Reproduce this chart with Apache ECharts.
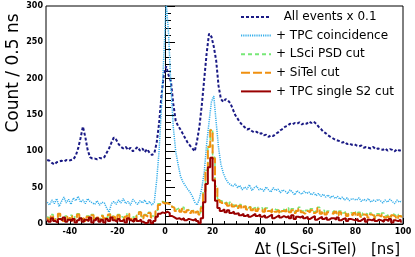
<!DOCTYPE html>
<html>
<head>
<meta charset="utf-8">
<script src="https://cdn.jsdelivr.net/npm/echarts@6.0.0/dist/echarts.min.js"></script>
<style>
html,body{margin:0;padding:0;background:#fff;}
#chart{width:415px;height:257px;}
</style>
</head>
<body>
<div id="chart"></div>
<script>
// Histogram binning (ns): 1 ns bins starting at -50
var binStart = -50;
var binWidth = 1;

// Tick labels
var xTickLabels = [-40, -20, 0, 20, 40, 60, 80, 100];
var yTickLabels = [0, 50, 100, 150, 200, 250, 300];

// Series names
var seriesNames = ['All events x 0.1', '+ TPC coincidence', '+ LSci PSD cut', '+ SiTel cut', '+ TPC single S2 cut'];

// All events (scaled x 0.1), bins -50 .. 99
var allEvents = [
  88, 87, 84, 82, 85, 86, 87, 86, 88, 87,
  88, 89, 94, 104, 118, 134, 120, 102, 92, 90,
  90, 89, 91, 90, 92, 98, 104, 112, 119, 116,
  110, 106, 104, 106, 102, 105, 100, 103, 106, 101,
  104, 99, 103, 98, 95, 97, 112, 138, 176, 205,
  217, 205, 196, 165, 142, 135, 130, 124, 118, 112,
  108, 104, 100, 115, 135, 165, 200, 235, 262, 258,
  244, 225, 190, 172, 168, 172, 170, 166, 158, 150,
  145, 140, 136, 133, 130, 131, 128, 126, 127, 124,
  125, 122, 123, 120, 122, 121, 124, 126, 129, 131,
  134, 135, 138, 137, 139, 138, 140, 137, 139, 138,
  141, 139, 141, 138, 134, 131, 127, 125, 122, 120,
  118, 116, 115, 114, 112, 113, 110, 111, 109, 110,
  108, 107, 108, 105, 106, 105, 104, 106, 103, 104,
  103, 102, 104, 101, 103, 102, 100, 103, 101, 102
];

// + TPC coincidence
var tpcCoinc = [
  30, 26, 33, 28, 35, 24, 31, 37, 29, 34,
  27, 36, 32, 38, 30, 33, 28, 35, 31, 29,
  27, 32, 26, 30, 29, 22, 16, 28, 31, 27,
  33, 29, 35, 28, 31, 26, 34, 30, 27, 32,
  29, 33, 27, 31, 26, 30, 60, 100, 160, 230,
  305, 262, 188, 133, 100, 82, 66, 58, 53, 48,
  44, 38, 30, 26, 35, 50, 72, 110, 140, 168,
  176, 140, 105, 82, 70, 62, 57, 54, 52, 55,
  50, 53, 47, 51, 48, 54, 46, 50, 52, 47,
  49, 45, 51, 47, 44, 50, 46, 48, 43, 47,
  45, 42, 47, 44, 40, 46, 43, 41, 45, 42,
  44, 40, 43, 39, 42, 38, 41, 37, 40, 36,
  39, 35, 38, 34, 37, 33, 36, 32, 35, 34,
  33, 36, 31, 34, 32, 35, 30, 33, 31, 34,
  32, 29, 33, 30, 34, 31, 28, 33, 30, 32
];

// + LSci PSD cut
var lsciPsd = [
  10, 8, 13, 6, 9, 15, 9, 5, 11, 7,
  12, 7, 10, 14, 8, 9, 6, 11, 9, 13,
  8, 10, 7, 12, 9, 9, 14, 8, 11, 7,
  13, 10, 8, 11, 15, 9, 10, 7, 12, 17,
  10, 13, 11, 16, 11, 9, 19, 28, 31, 30,
  31, 28, 26, 23, 20, 22, 18, 23, 18, 20,
  17, 19, 16, 18, 15, 24, 47, 74, 108, 130,
  92, 52, 35, 32, 29, 30, 27, 30, 26, 28,
  24, 27, 23, 25, 22, 24, 21, 23, 20, 23,
  22, 19, 22, 20, 18, 21, 19, 21, 17, 20,
  19, 22, 18, 21, 17, 20, 23, 18, 16, 19,
  18, 21, 17, 19, 23, 16, 19, 15, 18, 17,
  16, 19, 14, 18, 15, 17, 13, 16, 14, 17,
  13, 16, 12, 15, 14, 11, 15, 13, 10, 14,
  12, 15, 11, 13, 10, 14, 12, 9, 13, 11
];

// + SiTel cut
var sitelCut = [
  9, 6, 12, 5, 8, 14, 7, 4, 10, 6,
  11, 5, 9, 13, 6, 8, 4, 10, 7, 12,
  6, 9, 5, 11, 8, 7, 13, 6, 10, 5,
  12, 8, 6, 10, 14, 7, 9, 5, 11, 16,
  8, 12, 10, 15, 9, 7, 18, 26, 30, 28,
  29, 27, 24, 22, 18, 20, 17, 21, 16, 19,
  15, 18, 14, 17, 13, 22, 45, 72, 106, 129,
  90, 50, 33, 30, 27, 29, 25, 28, 24, 26,
  22, 25, 21, 24, 20, 23, 19, 22, 18, 21,
  20, 17, 21, 18, 16, 20, 17, 19, 15, 18,
  17, 20, 16, 19, 15, 18, 21, 16, 14, 18,
  16, 19, 15, 17, 22, 14, 17, 13, 16, 15,
  14, 17, 12, 16, 13, 15, 11, 14, 12, 15,
  11, 14, 10, 13, 12, 9, 13, 11, 8, 12,
  10, 13, 9, 11, 8, 12, 10, 7, 11, 9
];

// + TPC single S2 cut
var singleS2 = [
  6, 3, 8, 4, 2, 7, 5, 9, 3, 6,
  4, 7, 2, 5, 8, 3, 6, 4, 9, 2,
  5, 8, 3, 6, 2, 7, 4, 9, 5, 3,
  7, 4, 6, 2, 8, 5, 3, 7, 4, 6,
  3, 1, 2, 5, 1, 4, 10, 14, 16, 15,
  17, 15, 11, 9, 7, 8, 6, 8, 5, 7,
  6, 5, 7, 4, 1, 8, 30, 55, 78, 91,
  60, 32, 22, 18, 20, 16, 19, 15, 17, 14,
  15, 12, 14, 11, 13, 10, 12, 14, 11, 13,
  10, 12, 9, 11, 13, 8, 10, 12, 9, 11,
  9, 11, 8, 12, 7, 10, 9, 11, 8, 10,
  7, 9, 11, 6, 8, 10, 7, 9, 6, 8,
  8, 6, 9, 5, 7, 8, 4, 7, 6, 5,
  7, 4, 6, 8, 3, 6, 5, 7, 4, 6,
  5, 3, 6, 4, 7, 2, 5, 4, 6, 3
];

function toPairs(values) {
  return values.map(function (v, i) {
    return [binStart + binWidth * (i + 0.5), v];
  });
}

var chart = echarts.init(document.getElementById('chart'), null, {renderer: 'canvas'});

var tickFont = {fontFamily: 'DejaVu Sans', fontWeight: 'bold', fontSize: 8, color: '#000'};

var option = {
  animation: false,
  backgroundColor: '#fff',
  grid: {
    left: 46, right: 12, top: 6, bottom: 33,
    show: true, borderColor: '#000', borderWidth: 1, backgroundColor: 'transparent'
  },
  legend: {
    orient: 'vertical',
    left: 240,
    top: 11,
    padding: 0,
    itemWidth: 30,
    itemHeight: 14,
    itemGap: 6.6,
    selectedMode: false,
    data: seriesNames,
    itemStyle: {color: 'rgba(0,0,0,0)', borderColor: 'rgba(0,0,0,0)', borderWidth: 0},
    formatter: function (name) {
      return name === seriesNames[0] ? '  ' + name : name;
    },
    textStyle: {fontFamily: 'DejaVu Sans', fontSize: 12, color: '#000'}
  },
  graphic: [
    {
      type: 'text',
      x: 14, y: 73,
      rotation: Math.PI / 2,
      style: {
        text: 'Count / 0.5 ns',
        fontFamily: 'DejaVu Sans', fontSize: 17, fill: '#000',
        align: 'center', verticalAlign: 'middle'
      }
    },
    {
      type: 'text',
      x: 400, y: 250,
      style: {
        text: '\u0394t (LSci-SiTel)   [ns]',
        fontFamily: 'DejaVu Sans', fontSize: 15, fill: '#000',
        align: 'right', verticalAlign: 'middle'
      }
    }
  ],
  xAxis: [
    {
      type: 'value',
      min: -50, max: 100, interval: 5,
      axisLine: {show: true, onZero: false, lineStyle: {color: '#000', width: 1}},
      axisTick: {show: true, inside: true, length: 3, lineStyle: {color: '#000'}},
      axisLabel: Object.assign({show: true, margin: 4, customValues: xTickLabels}, tickFont),
      splitLine: {show: false}
    },
    {
      type: 'value',
      min: -50, max: 100, interval: 5,
      position: 'bottom',
      axisLine: {show: false},
      axisTick: {show: true, inside: true, length: 6, customValues: xTickLabels, lineStyle: {color: '#000'}},
      axisLabel: {show: false},
      splitLine: {show: false}
    }
  ],
  yAxis: {
    type: 'value',
    min: 0, max: 300, interval: 50,
    axisLine: {show: true, lineStyle: {color: '#000', width: 1}},
    axisTick: {show: true, inside: true, length: 10, lineStyle: {color: '#000'}},
    minorTick: {show: true, splitNumber: 5, length: 6, lineStyle: {color: '#000'}},
    axisLabel: Object.assign({show: true, margin: 3, customValues: yTickLabels}, tickFont),
    splitLine: {show: false}
  },
  series: [
    {
      name: seriesNames[0], type: 'line', symbol: 'none', xAxisIndex: 0,
      data: toPairs(allEvents),
      lineStyle: {color: '#1a1a85', width: 2, type: [3, 2]},
      itemStyle: {color: '#1a1a85'}
    },
    {
      name: seriesNames[1], type: 'line', symbol: 'none', xAxisIndex: 0,
      data: toPairs(tpcCoinc),
      lineStyle: {color: '#35aeea', width: 1.5, type: [1.2, 1]},
      itemStyle: {color: '#35aeea'}
    },
    {
      name: seriesNames[2], type: 'line', symbol: 'none', xAxisIndex: 0, step: 'middle',
      data: toPairs(lsciPsd),
      lineStyle: {color: '#77e877', width: 1.5, type: [4, 3]},
      itemStyle: {color: '#77e877'}
    },
    {
      name: seriesNames[3], type: 'line', symbol: 'none', xAxisIndex: 0, step: 'middle',
      data: toPairs(sitelCut),
      lineStyle: {color: '#f0900f', width: 2, type: [9, 3]},
      itemStyle: {color: '#f0900f'}
    },
    {
      name: seriesNames[4], type: 'line', symbol: 'none', xAxisIndex: 0, step: 'middle',
      data: toPairs(singleS2),
      lineStyle: {color: '#990000', width: 2, type: 'solid'},
      itemStyle: {color: '#990000'}
    }
  ]
};

chart.setOption(option);
</script>
</body>
</html>
